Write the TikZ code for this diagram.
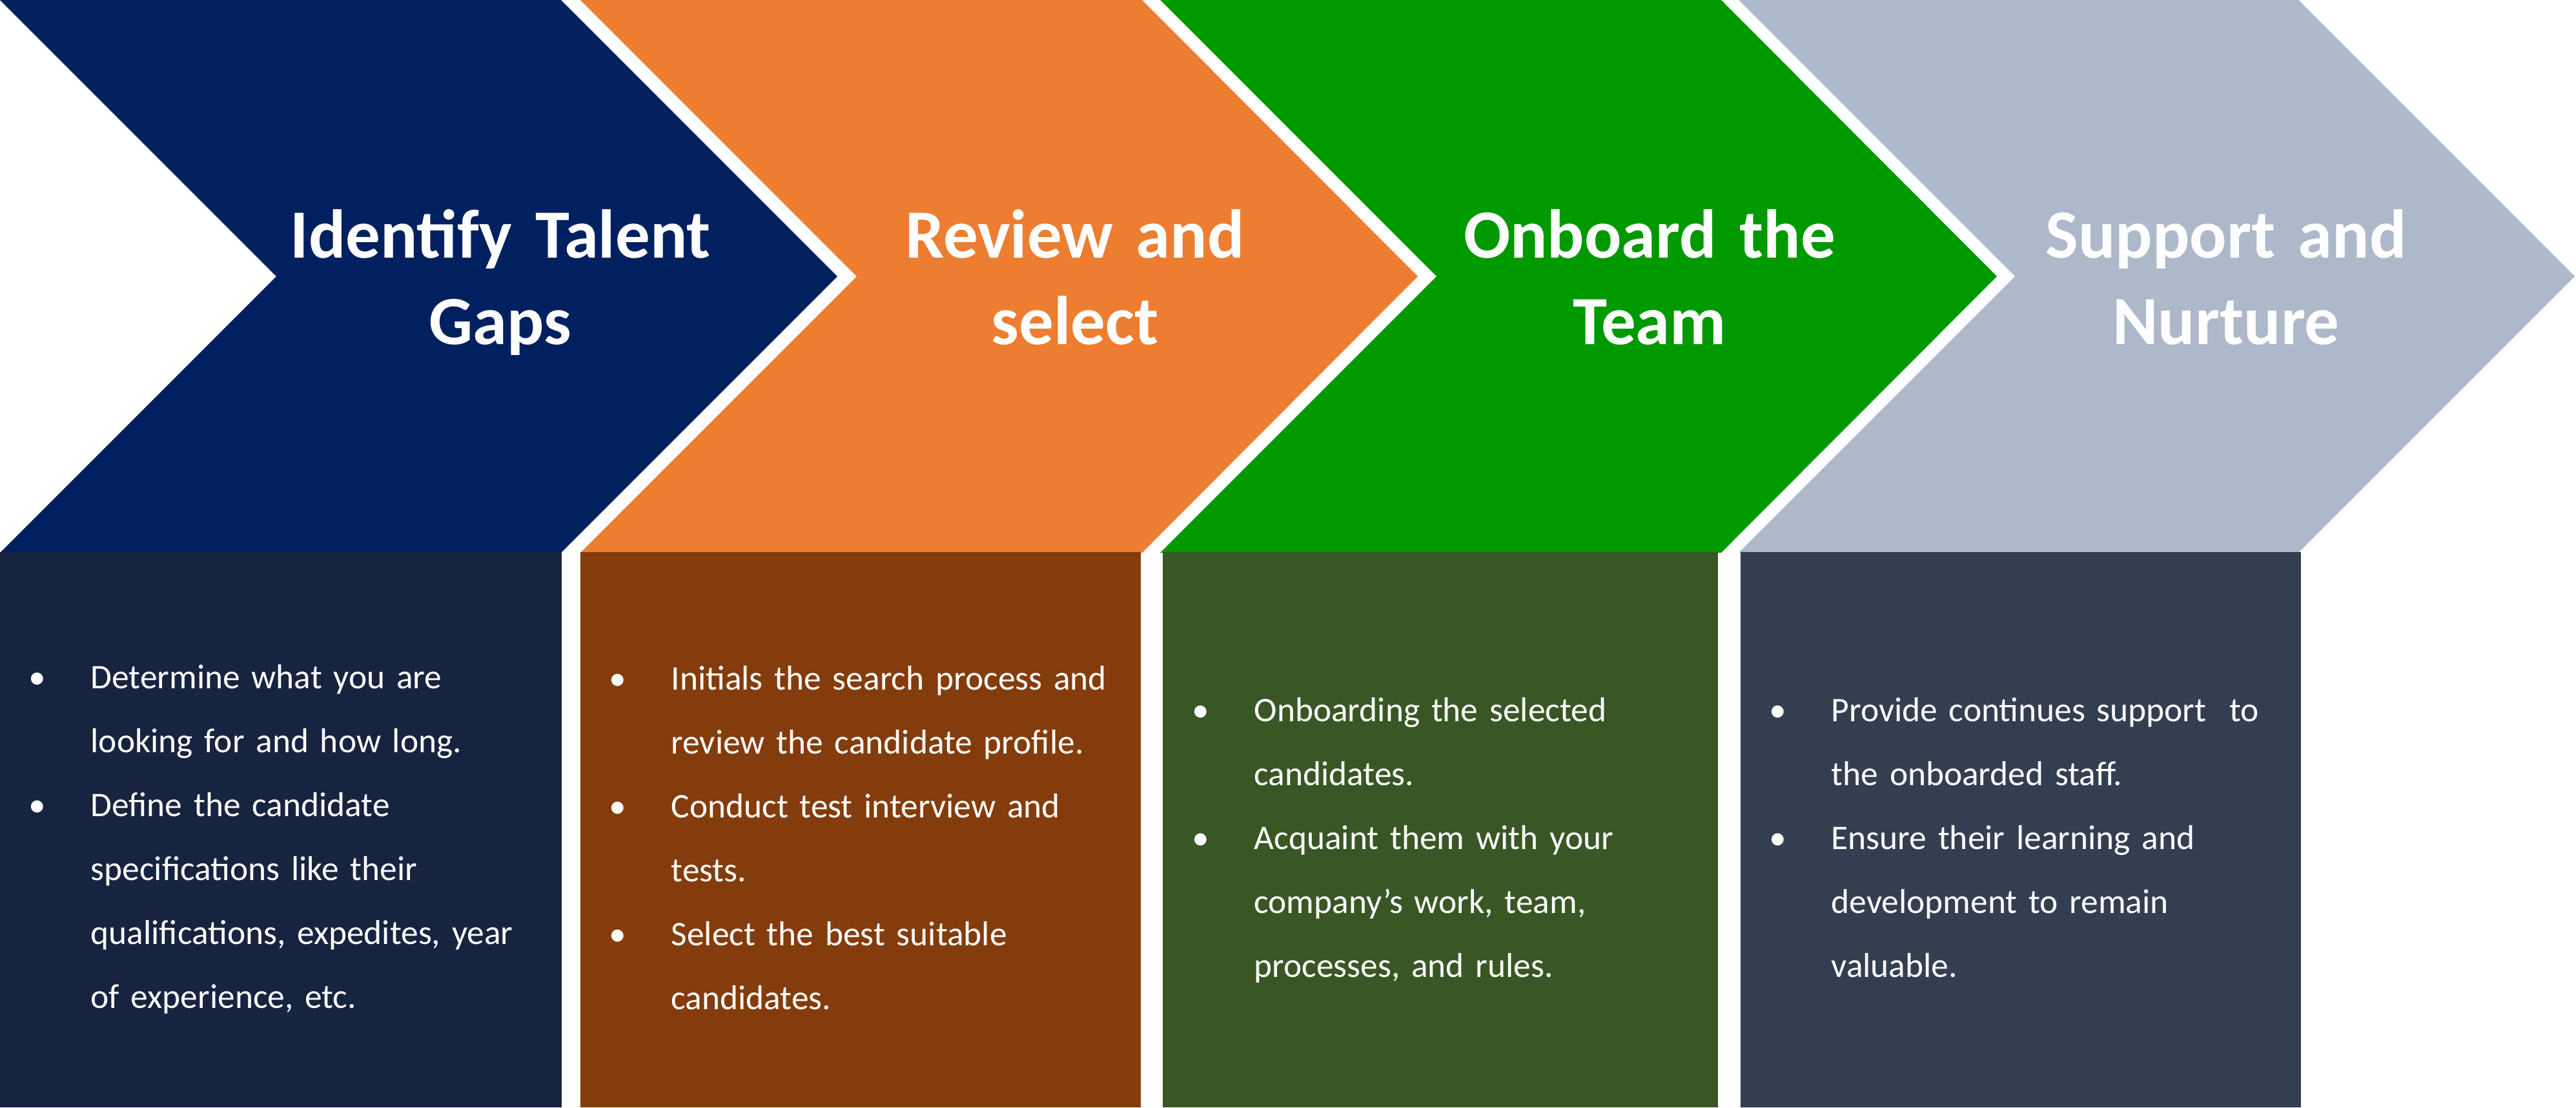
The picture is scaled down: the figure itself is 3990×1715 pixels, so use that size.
\documentclass[tikz,border=0pt]{standalone}
\usepackage{fontspec}
\setmainfont{Carlito}
\definecolor{navyA}{HTML}{002060}
\definecolor{orangeA}{HTML}{ED7D31}
\definecolor{greenA}{HTML}{009900}
\definecolor{greyA}{HTML}{ADB9CA}
\definecolor{navyB}{HTML}{162440}
\definecolor{orangeB}{HTML}{843C0C}
\definecolor{greenB}{HTML}{395725}
\definecolor{greyB}{HTML}{333F50}
\newcommand{\bul}{\hangindent=27.3pt\hangafter=1\noindent\makebox[27.3pt][l]{•}}
\begin{document}
\begin{tikzpicture}[x=0.1mm,y=-0.1mm,
  titletxt/.style={text=white,font=\bfseries\fontsize{30.45}{38.13}\selectfont,align=center,text width=227pt,inner sep=0pt,anchor=base},
  bodytxt/.style={text=white,font=\fontsize{15.2}{28.17}\selectfont,align=left,text width=232pt,inner sep=0pt,anchor=base west}]
\useasboundingbox (0,0) rectangle (3990,1715);
% chevrons
\fill[navyA] (0,0) -- (869,0) -- (1297,428) -- (869,856) -- (0,856) -- (428,428) -- cycle;
\fill[orangeA] (899,0) -- (1769,0) -- (2196,428) -- (1769,856) -- (899,856) -- (1327,428) -- cycle;
\fill[greenA] (1797,0) -- (2666,0) -- (3093,428) -- (2666,856) -- (1797,856) -- (2225,428) -- cycle;
\fill[greyA] (2693,0) -- (3560,0) -- (3988,428) -- (3560,856) -- (2693,856) -- (3121,428) -- cycle;
% boxes below
\fill[navyB] (0,855) rectangle (870,1715);
\fill[orangeB] (899,855) rectangle (1767,1715);
\fill[greenB] (1801,855) rectangle (2661,1715);
\fill[greyB] (2696,855) rectangle (3564,1715);
% titles
\node[titletxt] (gapsTitle) at (775,399) {Identify Talent\\Gaps};
\node[titletxt] (reviewTitle) at (1665,399) {Review and\\select};
\node[titletxt] (onboardTitle) at (2555,399) {Onboard the\\Team};
\node[titletxt] (supportTitle) at (3448,399) {Support and\\Nurture};
% bullet texts
\node[bodytxt] (gapsText) at (44,1066) {\bul Determine what you are\newline looking for and how long.\par
  \bul Define the candidate\newline specifications like their\newline qualifications, expedites, year\newline of experience, etc.\par};
\node[bodytxt] (reviewText) at (943,1068) {\bul Initials the search process and\newline review the candidate profile.\par
  \bul Conduct test interview and\newline tests.\par
  \bul Select the best suitable\newline candidates.\par};
\node[bodytxt] (onboardText) at (1846,1117) {\bul Onboarding the selected\newline candidates.\par
  \bul Acquaint them with your\newline company’s work, team,\newline processes, and rules.\par};
\node[bodytxt] (supportText) at (2740,1117) {\bul Provide continues support~ to\newline the onboarded staff.\par
  \bul Ensure their learning and\newline development to remain\newline valuable.\par};
\end{tikzpicture}
\end{document}
